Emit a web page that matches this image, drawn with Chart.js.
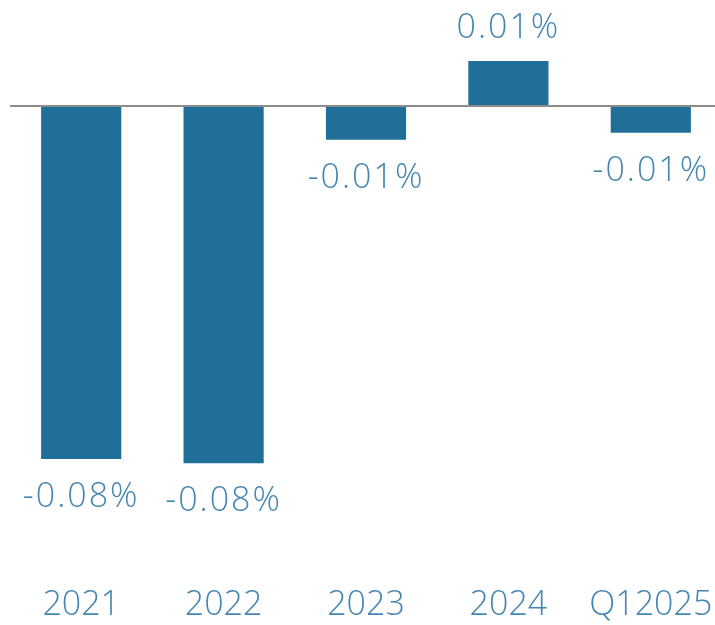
<!DOCTYPE html>
<html>
<head>
<meta charset="utf-8">
<script src="https://cdn.jsdelivr.net/npm/chart.js@4/dist/chart.umd.min.js"></script>
<style>
  html, body { margin: 0; padding: 0; background: #fff; overflow: hidden; height: 625px; }
  #wrap { position: absolute; left: 0; top: 0; width: 722px; height: 641px; }
</style>
</head>
<body>
<div id="wrap"><canvas id="chart"></canvas></div>
<script>
const categories = ["2021", "2022", "2023", "2024", "Q12025"];
const values = [-0.080, -0.081, -0.0077, 0.0102, -0.0061];

let barColor = "#1f6f99";
let textColor = "#4587b2";
let fontFamily = "'Open Sans', 'Lato', sans-serif";

// value labels above / below each bar
const valueLabels = {
    id: "valueLabels",
    afterDatasetsDraw(chart) {
        const ctx = chart.ctx;
        const meta = chart.getDatasetMeta(0);
        ctx.save();
        ctx.font = "300 34px " + fontFamily;
        ctx.fillStyle = textColor;
        ctx.textAlign = "center";
        ctx.textBaseline = "middle";
        ctx.letterSpacing = "2px";
        meta.data.forEach((bar, i) => {
            const v = values[i];
            const txt = v.toFixed(2) + "%";
            const y = v >= 0 ? bar.y - 33 : bar.y + 38;
            ctx.fillText(txt, bar.x, y);
        });
        ctx.restore();
    }
};

new Chart(document.getElementById("chart"), {
    type: "bar",
    data: {
        labels: categories,
        datasets: [
            {
                data: values,
                backgroundColor: barColor,
                borderWidth: 0,
                barPercentage: 0.563,
                categoryPercentage: 1
            }
        ]
    },
    options: {
        responsive: true,
        maintainAspectRatio: false,
        animation: false,
        layout: { padding: { left: 10, right: 0, top: 0, bottom: 7 } },
        scales: {
            x: {
                grid: { display: false },
                border: { display: false },
                ticks: {
                    color: textColor,
                    font: { family: fontFamily, size: 34, weight: 300 },
                    padding: 8
                }
            },
            y: {
                min: -0.105,
                max: 0.024,
                afterBuildTicks: (axis) => { axis.ticks = [{ value: 0 }]; },
                ticks: { display: false },
                border: { display: false },
                grid: {
                    color: "#8c8c8c",
                    lineWidth: 2,
                    drawTicks: false
                }
            }
        },
        plugins: {
            legend: { display: false },
            tooltip: { enabled: false }
        }
    },
    plugins: [valueLabels]
});
</script>
</body>
</html>
